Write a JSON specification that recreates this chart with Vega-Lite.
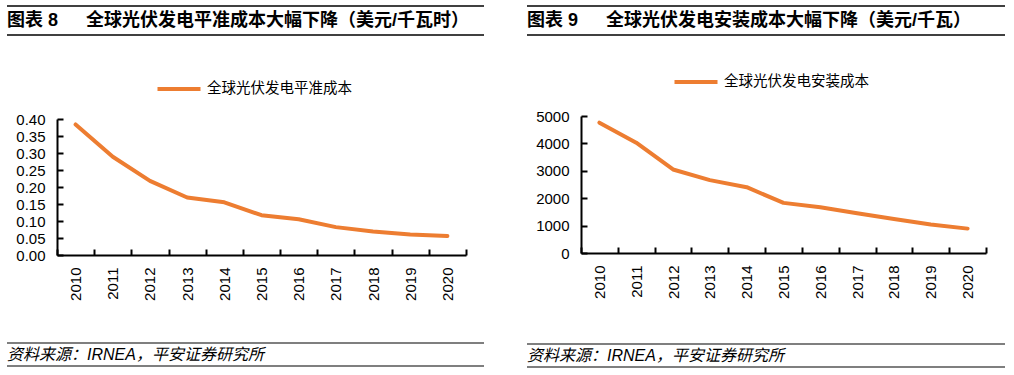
{
  "$schema": "https://vega.github.io/schema/vega-lite/v6.json",
  "padding": {"left": 0, "top": 5, "right": 0, "bottom": 0},
  "background": "white",
  "datasets": {
    "lcoe": [
      {"year": "2010", "cost": 0.384, "series": "全球光伏发电平准成本"},
      {"year": "2011", "cost": 0.289, "series": "全球光伏发电平准成本"},
      {"year": "2012", "cost": 0.218, "series": "全球光伏发电平准成本"},
      {"year": "2013", "cost": 0.169, "series": "全球光伏发电平准成本"},
      {"year": "2014", "cost": 0.155, "series": "全球光伏发电平准成本"},
      {"year": "2015", "cost": 0.117, "series": "全球光伏发电平准成本"},
      {"year": "2016", "cost": 0.105, "series": "全球光伏发电平准成本"},
      {"year": "2017", "cost": 0.082, "series": "全球光伏发电平准成本"},
      {"year": "2018", "cost": 0.069, "series": "全球光伏发电平准成本"},
      {"year": "2019", "cost": 0.06, "series": "全球光伏发电平准成本"},
      {"year": "2020", "cost": 0.056, "series": "全球光伏发电平准成本"}
    ],
    "install": [
      {"year": "2010", "cost": 4756, "series": "全球光伏发电安装成本"},
      {"year": "2011", "cost": 4024, "series": "全球光伏发电安装成本"},
      {"year": "2012", "cost": 3049, "series": "全球光伏发电安装成本"},
      {"year": "2013", "cost": 2659, "series": "全球光伏发电安装成本"},
      {"year": "2014", "cost": 2402, "series": "全球光伏发电安装成本"},
      {"year": "2015", "cost": 1829, "series": "全球光伏发电安装成本"},
      {"year": "2016", "cost": 1671, "series": "全球光伏发电安装成本"},
      {"year": "2017", "cost": 1451, "series": "全球光伏发电安装成本"},
      {"year": "2018", "cost": 1244, "series": "全球光伏发电安装成本"},
      {"year": "2019", "cost": 1037, "series": "全球光伏发电安装成本"},
      {"year": "2020", "cost": 890, "series": "全球光伏发电安装成本"}
    ]
  },
  "config": {
    "view": {"stroke": null},
    "axis": {
      "domainColor": "#000",
      "domainWidth": 2,
      "tickColor": "#000",
      "tickWidth": 2,
      "tickSize": -6,
      "labelColor": "#000",
      "labelFont": "Liberation Sans",
      "labelFontSize": 15,
      "grid": false,
      "title": null
    },
    "legend": {
      "labelFont": "Liberation Sans, Noto Sans CJK SC",
      "labelFontSize": 14.5,
      "labelColor": "#000",
      "symbolType": "stroke",
      "symbolSize": 1850,
      "symbolStrokeWidth": 4,
      "labelOffset": 4
    }
  },
  "resolve": {"scale": {"color": "independent"}, "legend": {"color": "independent"}},
  "spacing": 35,
  "hconcat": [
    {
      "spacing": 41,
      "resolve": {"scale": {"color": "independent"}, "legend": {"color": "independent"}},
      "vconcat": [
        {
          "spacing": 29,
          "resolve": {"scale": {"color": "independent"}, "legend": {"color": "independent"}},
          "vconcat": [
            {
              "width": 477,
              "height": 29,
              "data": {"values": [{}]},
              "layer": [
                {"mark": {"type": "rule", "color": "#000", "strokeWidth": 1.3}, "encoding": {"y": {"datum": 1, "type": "quantitative", "scale": {"domain": [0, 1]}, "axis": null}}},
                {"mark": {"type": "rule", "color": "#000", "strokeWidth": 1.6}, "encoding": {"y": {"datum": 0, "type": "quantitative", "scale": {"domain": [0, 1]}, "axis": null}}},
                {"mark": {"type": "text", "align": "left", "baseline": "middle", "fontSize": 18, "fontWeight": "bold", "font": "Liberation Sans, Noto Sans CJK SC", "color": "#000"},
                 "encoding": {"text": {"datum": "图表 8\u3000\u00a0\u00a0全球光伏发电平准成本大幅下降（美元/千瓦时）"}, "x": {"datum": 0, "type": "quantitative", "scale": {"domain": [0, 1]}, "axis": null}, "y": {"datum": 0.5, "type": "quantitative", "scale": {"domain": [0, 1]}, "axis": null}}}
              ]
            },
            {
              "width": 477,
              "height": 136,
              "data": {"name": "lcoe"},
              "mark": {"type": "line", "strokeWidth": 4, "strokeCap": "round", "strokeJoin": "round"},
              "encoding": {
                "x": {"field": "year", "type": "ordinal", "bandPosition": 0.5, "scale": {"type": "band", "paddingInner": 0, "paddingOuter": 0, "range": [50, 459]}, "axis": {"labelAngle": -90, "tickBand": "extent", "labelPadding": 18}},
                "y": {"field": "cost", "type": "quantitative", "scale": {"domain": [0, 0.4], "nice": false}, "axis": {"values": [0, 0.05, 0.1, 0.15, 0.2, 0.25, 0.3, 0.35, 0.4], "format": ".2f", "offset": -50, "labelPadding": 18}},
                "color": {"field": "series", "type": "nominal", "scale": {"range": ["#ED7D31"]}, "legend": {"orient": "none", "legendX": 148, "legendY": -54, "title": null}}
              }
            }
          ]
        },
        {
          "width": 477,
          "height": 23,
          "data": {"values": [{}]},
          "layer": [
            {"mark": {"type": "rule", "color": "#000", "strokeWidth": 1.2}, "encoding": {"y": {"datum": 1, "type": "quantitative", "scale": {"domain": [0, 1]}, "axis": null}}},
            {"mark": {"type": "rule", "color": "#000", "strokeWidth": 1.2}, "encoding": {"y": {"datum": 0, "type": "quantitative", "scale": {"domain": [0, 1]}, "axis": null}}},
            {"mark": {"type": "text", "align": "left", "baseline": "middle", "fontSize": 16, "fontStyle": "italic", "font": "Liberation Sans, Noto Sans CJK SC", "color": "#000"},
             "encoding": {"text": {"datum": "资料来源：IRNEA，平安证券研究所"}, "x": {"datum": 0, "type": "quantitative", "scale": {"domain": [0, 1]}, "axis": null}, "y": {"datum": 0.5, "type": "quantitative", "scale": {"domain": [0, 1]}, "axis": null}}}
          ]
        }
      ]
    },
    {
      "spacing": 44,
      "resolve": {"scale": {"color": "independent"}, "legend": {"color": "independent"}},
      "vconcat": [
        {
          "spacing": 22,
          "resolve": {"scale": {"color": "independent"}, "legend": {"color": "independent"}},
          "vconcat": [
            {
              "width": 478,
              "height": 29,
              "data": {"values": [{}]},
              "layer": [
                {"mark": {"type": "rule", "color": "#000", "strokeWidth": 1.3}, "encoding": {"y": {"datum": 1, "type": "quantitative", "scale": {"domain": [0, 1]}, "axis": null}}},
                {"mark": {"type": "rule", "color": "#000", "strokeWidth": 1.6}, "encoding": {"y": {"datum": 0, "type": "quantitative", "scale": {"domain": [0, 1]}, "axis": null}}},
                {"mark": {"type": "text", "align": "left", "baseline": "middle", "fontSize": 18, "fontWeight": "bold", "font": "Liberation Sans, Noto Sans CJK SC", "color": "#000"},
                 "encoding": {"text": {"datum": "图表 9\u3000\u00a0\u00a0全球光伏发电安装成本大幅下降（美元/千瓦）"}, "x": {"datum": 0, "type": "quantitative", "scale": {"domain": [0, 1]}, "axis": null}, "y": {"datum": 0.5, "type": "quantitative", "scale": {"domain": [0, 1]}, "axis": null}}}
              ]
            },
            {
              "width": 478,
              "height": 137,
              "data": {"name": "install"},
              "mark": {"type": "line", "strokeWidth": 4, "strokeCap": "round", "strokeJoin": "round"},
              "encoding": {
                "x": {"field": "year", "type": "ordinal", "bandPosition": 0.5, "scale": {"type": "band", "paddingInner": 0, "paddingOuter": 0, "range": [54, 459]}, "axis": {"labelAngle": -90, "tickBand": "extent", "labelPadding": 18}},
                "y": {"field": "cost", "type": "quantitative", "scale": {"domain": [0, 5000], "nice": false}, "axis": {"values": [0, 1000, 2000, 3000, 4000, 5000], "format": "d", "offset": -54, "labelPadding": 18}},
                "color": {"field": "series", "type": "nominal", "scale": {"range": ["#ED7D31"]}, "legend": {"orient": "none", "legendX": 145, "legendY": -58, "title": null}}
              }
            }
          ]
        },
        {
          "width": 478,
          "height": 23,
          "data": {"values": [{}]},
          "layer": [
            {"mark": {"type": "rule", "color": "#000", "strokeWidth": 1.2}, "encoding": {"y": {"datum": 1, "type": "quantitative", "scale": {"domain": [0, 1]}, "axis": null}}},
            {"mark": {"type": "rule", "color": "#000", "strokeWidth": 1.2}, "encoding": {"y": {"datum": 0, "type": "quantitative", "scale": {"domain": [0, 1]}, "axis": null}}},
            {"mark": {"type": "text", "align": "left", "baseline": "middle", "fontSize": 16, "fontStyle": "italic", "font": "Liberation Sans, Noto Sans CJK SC", "color": "#000"},
             "encoding": {"text": {"datum": "资料来源：IRNEA，平安证券研究所"}, "x": {"datum": 0, "type": "quantitative", "scale": {"domain": [0, 1]}, "axis": null}, "y": {"datum": 0.5, "type": "quantitative", "scale": {"domain": [0, 1]}, "axis": null}}}
          ]
        }
      ]
    }
  ]
}
